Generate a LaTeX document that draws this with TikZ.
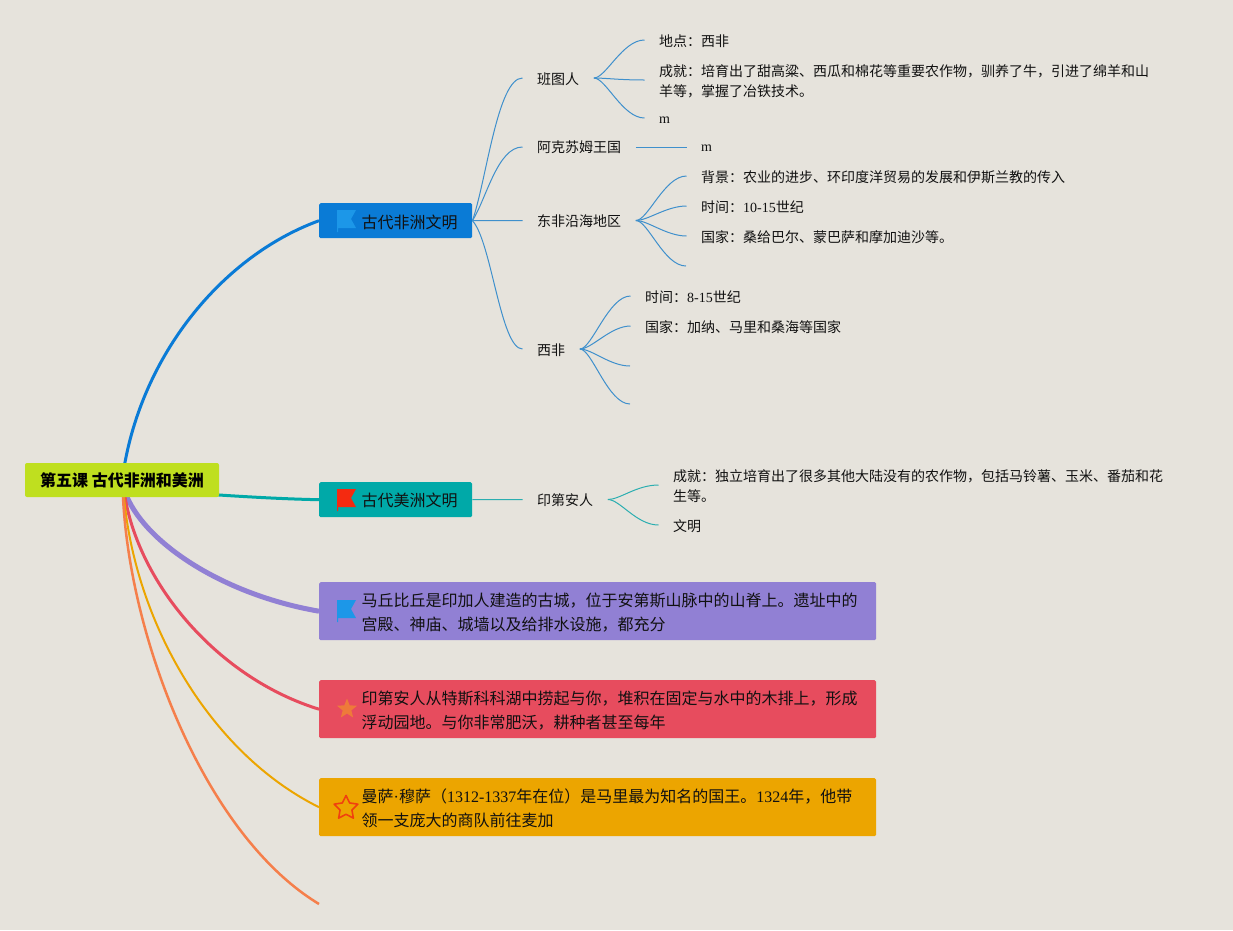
\documentclass[tikz,border=0pt]{standalone}
\usepackage{fontspec}
\usetikzlibrary{shapes.geometric}
\setmainfont{Noto Sans CJK SC}
\newfontfamily\latinf{Liberation Serif}
\newcommand{\lat}[1]{{\latinf #1}}
\newcommand{\lowered}[1]{\vbox{\kern2pt\hbox{#1}}}
\newcommand{\boxtext}[3]{\vbox{\kern#3pt\hbox to #1pt{\hskip42.5pt\parbox[c]{\dimexpr #1pt-43pt\relax}{\raggedright #2}\hss}}}
\newcommand{\flagicon}[3]{\fill[#3,shift={(#1,#2)}] (0,0) -- (19,0) -- (14,9) -- (19,18) -- (1,18) -- (1,22) -- (0,22) -- cycle;}
\definecolor{bgc}{HTML}{E6E3DC}
\definecolor{rootc}{HTML}{BFDF1F}
\definecolor{bluec}{HTML}{0A7BD6}
\definecolor{tealc}{HTML}{00A9A8}
\definecolor{purc}{HTML}{9180D4}
\definecolor{redc}{HTML}{E74C5E}
\definecolor{yelc}{HTML}{ECA500}
\definecolor{orac}{HTML}{F57F4B}
\definecolor{bluel}{HTML}{3F90CC}
\definecolor{teall}{HTML}{2BAEB0}
\definecolor{txt}{HTML}{111111}
\definecolor{flagb}{HTML}{1C97E8}
\definecolor{flagr}{HTML}{F42A10}
\definecolor{starf}{HTML}{EE7A3A}
\definecolor{stard}{HTML}{F0400F}
\tikzset{
  rootbox/.style={fill=rootc,rounded corners=2pt,inner sep=0pt,minimum width=194pt,minimum height=34pt,font=\fontsize{16}{20}\selectfont\bfseries,text=black},
  mainbox/.style={rounded corners=1.5pt,inner sep=0pt,anchor=north west,font=\fontsize{16}{24}\selectfont,text=txt},
  leaf/.style={anchor=west,inner xsep=14.5pt,inner ysep=0pt,align=left,font=\fontsize{14}{20}\selectfont,text=txt},
  blueline/.style={draw=bluel,line width=1pt},
  tealline/.style={draw=teall,line width=1pt}
}
\begin{document}
\begin{tikzpicture}[x=1pt,y=-1pt]
\fill[bgc] (0,0) rectangle (1233,930);
\useasboundingbox (0,0) rectangle (1233,930);

% main nodes
\node[mainbox,fill=bluec,minimum width=153pt,minimum height=35pt] (africa) at (319,203) {\boxtext{153}{古代非洲文明}{3}};
\node[mainbox,fill=tealc,minimum width=153pt,minimum height=35pt] (america) at (319,482) {\boxtext{153}{古代美洲文明}{2}};
\node[mainbox,fill=purc,minimum width=557pt,minimum height=58pt] (machu) at (319,582) {\boxtext{557}{马丘比丘是印加人建造的古城，位于安第斯山脉中的山脊上。遗址中的\\宫殿、神庙、城墙以及给排水设施，都充分}{2}};
\node[mainbox,fill=redc,minimum width=557pt,minimum height=58pt] (indian) at (319,680) {\boxtext{557}{印第安人从特斯科科湖中捞起与你，堆积在固定与水中的木排上，形成\\浮动园地。与你非常肥沃，耕种者甚至每年}{2}};
\node[mainbox,fill=yelc,minimum width=557pt,minimum height=58pt] (musa) at (319,778) {\boxtext{557}{曼萨\lat{·}穆萨（\lat{1312-1337}年在位）是马里最为知名的国王。\lat{1324}年，他带\\领一支庞大的商队前往麦加}{2}};
\coordinate (oend) at (319,904);
\coordinate (rootc) at (122,480);

% main connectors
\draw[bluec,line width=3pt] (rootc) -- (124.5,465) .. controls (145,350) and (225,255) .. (africa.west);
\draw[tealc,line width=3pt] (rootc) -- (219,495) .. controls (250,497) and (285,499) .. (america.west);
\draw[purc,line width=5pt] (rootc) -- (127,497) .. controls (148,545) and (225,595) .. (machu.west);
\draw[redc,line width=3pt] (rootc) -- (125,497) .. controls (140,585) and (218,678) .. (indian.west);
\draw[yelc,line width=2pt] (rootc) -- (124,497) .. controls (135,620) and (208,752) .. (musa.west);
\draw[orac,line width=2.5pt] (rootc) -- (123,497) .. controls (130,640) and (205,835) .. (oend);
\node[rootbox] (root) at (rootc) {第五课 古代非洲和美洲};

% icons
\flagicon{337}{210}{flagb}
\flagicon{337}{489}{flagr}
\flagicon{337}{600}{flagb}
\node[star,star points=5,star point ratio=2.3,fill=starf,inner sep=0pt,minimum size=21pt] (star1) at (347,709) {};
\node[star,star points=5,star point ratio=2,draw=stard,line width=1.6pt,line join=round,inner sep=0pt,minimum size=25pt] (star2) at (346,808) {};

% level 2
\node[leaf] (bantu) at (522.5,78) {\lowered{班图人}};
\node[leaf] (aksum) at (522.5,147) {阿克苏姆王国};
\node[leaf] (east) at (522.5,220.5) {\lowered{东非沿海地区}};
\node[leaf] (west) at (522.5,349) {\lowered{西非}};
\node[leaf] (inca) at (522.5,499.5) {\lowered{印第安人}};

% level 3
\node[leaf] (b1) at (644.5,41) {地点：西非};
\node[leaf] (b2) at (644.5,81) {成就：培育出了甜高粱、西瓜和棉花等重要农作物，驯养了牛，引进了绵羊和山\\羊等，掌握了冶铁技术。};
\node[leaf] (b3) at (644.5,119) {\lowered{\lat{m}}};
\node[leaf] (a1) at (686.5,147) {\lowered{\lat{m}}};
\node[leaf] (e1) at (686.5,177) {背景：农业的进步、环印度洋贸易的发展和伊斯兰教的传入};
\node[leaf] (e2) at (686.5,207) {时间：\lat{10-15}世纪};
\node[leaf] (e3) at (686.5,237) {国家：桑给巴尔、蒙巴萨和摩加迪沙等。};
\coordinate (e4) at (686,266);
\node[leaf] (w1) at (630.5,297) {时间：\lat{8-15}世纪};
\node[leaf] (w2) at (630.5,327) {国家：加纳、马里和桑海等国家};
\coordinate (w3) at (630,366);
\coordinate (w4) at (630,404);
\node[leaf] (i1) at (658.5,486) {成就：独立培育出了很多其他大陆没有的农作物，包括马铃薯、玉米、番茄和花\\生等。};
\node[leaf] (i2) at (658.5,526) {文明};

% level 2 connectors
\draw[blueline] (africa.east) .. controls +(14,-40) and +(-25,0) .. (bantu.west);
\draw[blueline] (africa.east) .. controls +(14,-22) and +(-25,0) .. (aksum.west);
\draw[blueline] (africa.east) -- (east.west);
\draw[blueline] (africa.east) .. controls +(19,20) and +(-22,0) .. (west.west);
\draw[tealline] (america.east) -- (inca.west);

% level 3 connectors
\draw[blueline] (bantu.east) .. controls +(12,0) and +(-22,0) .. (b1.west |- 0,40);
\draw[blueline] (bantu.east) .. controls +(12,0) and +(-25,0) .. (b2.west |- 0,80);
\draw[blueline] (bantu.east) .. controls +(12,0) and +(-22,0) .. (b3.west |- 0,118);
\draw[blueline] (aksum.east) -- (a1.west);
\draw[blueline] (east.east) .. controls +(12,0) and +(-22,0) .. (e1.west |- 0,176);
\draw[blueline] (east.east) .. controls +(12,0) and +(-20,0) .. (e2.west |- 0,206);
\draw[blueline] (east.east) .. controls +(12,0) and +(-20,0) .. (e3.west |- 0,236);
\draw[blueline] (east.east) .. controls +(12,0) and +(-22,0) .. (e4);
\draw[blueline] (west.east) .. controls +(12,0) and +(-22,0) .. (w1.west |- 0,296);
\draw[blueline] (west.east) .. controls +(12,0) and +(-20,0) .. (w2.west |- 0,326);
\draw[blueline] (west.east) .. controls +(12,0) and +(-20,0) .. (w3);
\draw[blueline] (west.east) .. controls +(12,0) and +(-22,0) .. (w4);
\draw[tealline] (inca.east) .. controls +(12,0) and +(-22,0) .. (i1.west |- 0,485);
\draw[tealline] (inca.east) .. controls +(12,0) and +(-22,0) .. (i2.west |- 0,525);
\end{tikzpicture}
\end{document}
